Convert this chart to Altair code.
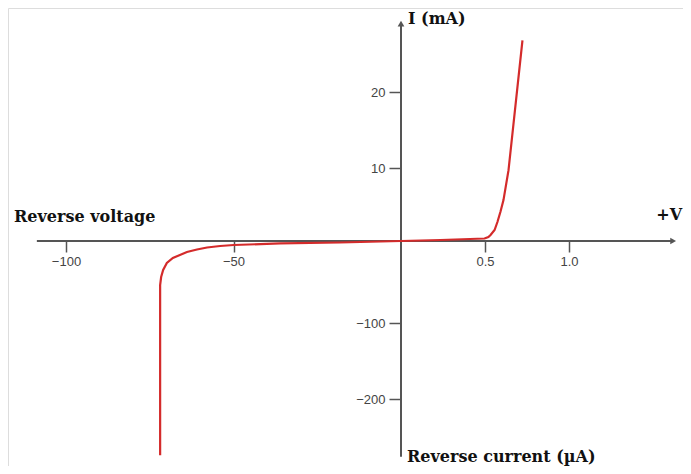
import altair as alt
import pandas as pd

# Diode I-V curve (reverse side in microamps, forward side in milliamps)
volts = [-71.9, -71.9, -71.9, -71.6, -71.0, -69.9, -68.1, -66.0, -63.9, -60.9, -57.9, -54.0, -49.9, -36.1, -18.2, 0.0,
         0.235, 0.497, 0.52, 0.533, 0.557, 0.574, 0.592, 0.61, 0.64, 0.723]
current = [-274, -72, -53.7, -43.9, -35.4, -26.8, -20.7, -17.1, -13.4, -10.4, -7.9, -6.1, -4.9, -3.0, -1.8, 0.0,
           0.14, 0.34, 0.55, 0.82, 1.5, 2.6, 4.0, 5.6, 9.7, 26.8]

x_ticks = [-100, -50, 0.5, 1.0]
y_ticks = [-200, -100, 10, 20]

# piecewise scale breakpoints (volts / current)
x_breaks = [-100, 0, 1.0]
y_breaks = [-200, -100, 0, 10, 20]

# axis line extents
h_axis_x = [-108.7, 1.62]
v_axis_y = [-276, 29.0]

labels = ["Reverse voltage", "I (mA)", "+V", "Reverse current (µA)"]
label_x = [-115.5, 0.042, 1.673, 0.036]
label_y = [3.3, 29.6, 3.5, -276]
label_align = ["left", "left", "right", "left"]

W, H = 675, 458
xs = alt.Scale(domain=x_breaks, range=[58, 393, 561], nice=False, zero=False)
ys = alt.Scale(domain=y_breaks, range=[391, 315, 233, 160, 84], nice=False, zero=False)

AX = "#555555"
x_axis = alt.Axis(
    values=x_ticks, labelExpr="datum.value > 0 ? format(datum.value, '.1f') : format(datum.value, 'd')",
    offset=-(H - 233), domain=False, grid=False, tickSize=11, tickColor=AX, tickWidth=1.5,
    labelFlush=False, labelFont="Liberation Sans", labelFontSize=13, labelColor="#444444",
    labelPadding=3, title=None)
y_axis = alt.Axis(
    values=y_ticks, labelExpr="format(datum.value, 'd')", orient="left",
    offset=-393, domain=False, grid=False, tickSize=12, tickColor=AX, tickWidth=1.5,
    labelFlush=False, labelFont="Liberation Sans", labelFontSize=13, labelColor="#444444",
    labelPadding=4, title=None)

curve_df = pd.DataFrame({"v": volts, "i": current, "k": range(len(volts))})

curve = alt.Chart(curve_df).mark_line(color="#d42b2b", strokeWidth=2.2).encode(
    x=alt.X("v:Q", scale=xs, axis=x_axis),
    y=alt.Y("i:Q", scale=ys, axis=y_axis),
    order="k:Q",
)

h_df = pd.DataFrame({"x1": [h_axis_x[0]], "x2": [h_axis_x[1]], "y": [0]})
v_df = pd.DataFrame({"y1": [v_axis_y[0]], "y2": [v_axis_y[1]], "x": [0]})

h_axis = alt.Chart(h_df).mark_rule(color=AX, strokeWidth=2).encode(
    x=alt.X("x1:Q", scale=xs, axis=x_axis), x2="x2:Q", y=alt.Y("y:Q", scale=ys, axis=y_axis))
v_axis = alt.Chart(v_df).mark_rule(color=AX, strokeWidth=2).encode(
    y=alt.Y("y1:Q", scale=ys, axis=y_axis), y2="y2:Q", x=alt.X("x:Q", scale=xs, axis=x_axis))

arr_df = pd.DataFrame({"x": [h_axis_x[1], 0], "y": [0, v_axis_y[1]], "shape": ["triangle-right", "triangle-up"]})
arrows = alt.Chart(arr_df).mark_point(filled=True, color=AX, opacity=1, size=45).encode(
    x=alt.X("x:Q", scale=xs, axis=x_axis), y=alt.Y("y:Q", scale=ys, axis=y_axis),
    shape=alt.Shape("shape:N", scale=None))

lab_df = pd.DataFrame({"t": labels, "x": label_x, "y": label_y, "a": label_align})
texts = []
for al in ["left", "right"]:
    texts.append(alt.Chart(lab_df[lab_df["a"] == al]).mark_text(
        font="DejaVu Serif", fontWeight="bold", fontSize=16, align=al, baseline="middle", color="#111111").encode(
        x=alt.X("x:Q", scale=xs, axis=x_axis), y=alt.Y("y:Q", scale=ys, axis=y_axis), text="t:N"))

chart = alt.layer(h_axis, v_axis, arrows, curve, *texts).properties(
    width=W, height=H, padding=0, autosize="none"
).configure_view(stroke=None).configure(background="white")

chart.save("out.html", embed_options={"renderer": "svg", "actions": False})
